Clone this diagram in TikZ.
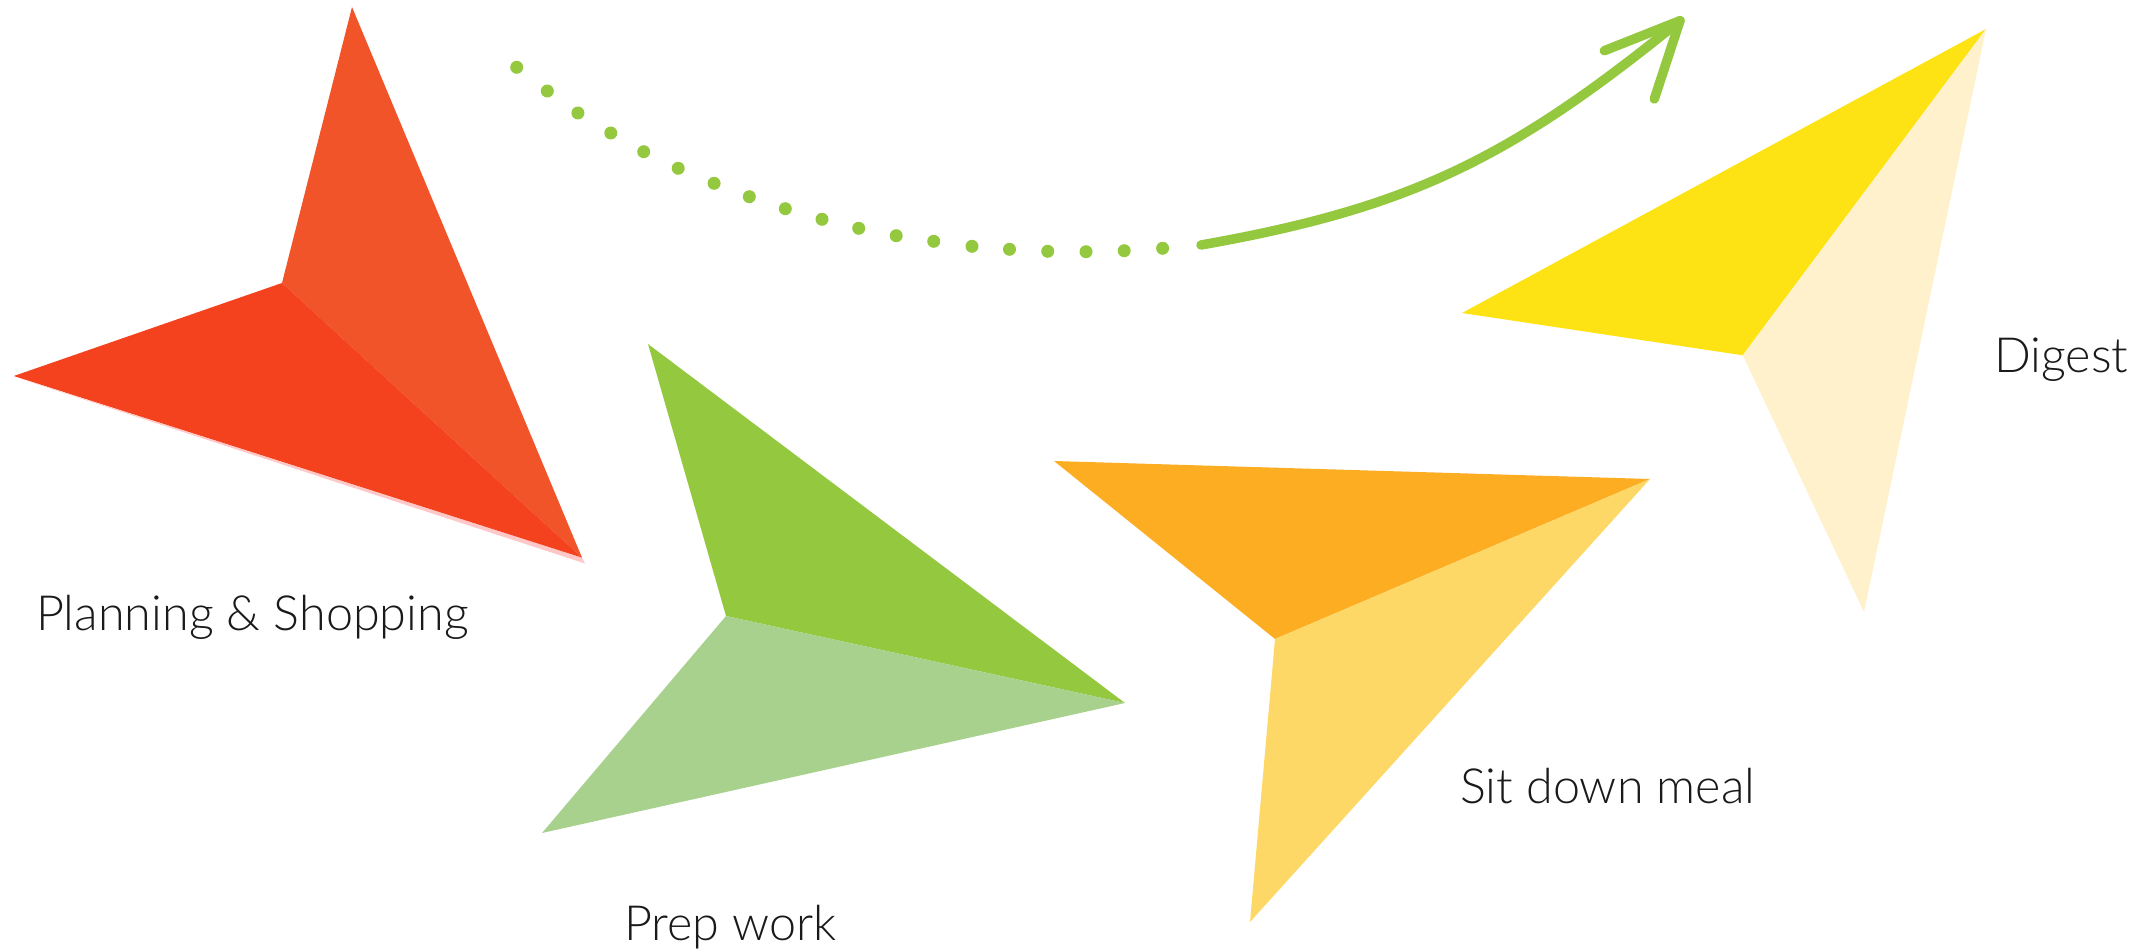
\documentclass[tikz,border=0pt]{standalone}
\usepackage{fontspec}
\newfontfamily\latolight{Lato Light}
\definecolor{redA}{HTML}{F2542A}
\definecolor{redB}{HTML}{F4411E}
\definecolor{redS}{HTML}{FFC8C8}
\definecolor{grnA}{HTML}{93C83F}
\definecolor{grnB}{HTML}{A8D18D}
\definecolor{orgA}{HTML}{FDAD22}
\definecolor{orgB}{HTML}{FDD867}
\definecolor{yelA}{HTML}{FEE314}
\definecolor{yelB}{HTML}{FEF1CB}
\definecolor{txt}{HTML}{1A1A1A}
\tikzset{
  lbl/.style={anchor=base west, inner sep=0pt, font=\latolight\fontsize{48.5}{52}\selectfont, text=txt},
  gdot/.style={fill=grnA},
  gline/.style={draw=grnA, line width=9.5pt, line cap=round, line join=round},
}
\begin{document}
\begin{tikzpicture}[x=1pt,y=-1pt]
\useasboundingbox (0,0) rectangle (2151,952);
% red
\coordinate (rT) at (352,7);
\coordinate (rI) at (282,283);
\coordinate (rL) at (13.8,376);
\coordinate (rR) at (582,557.6);
\fill[redS] (13.5,376.5) -- (585,563.5) -- (rR) -- cycle;
\fill[redA] (rT) -- (rI) -- (rR) -- cycle;
\fill[redB] (rL) -- (rI) -- (rR) -- cycle;
% green
\coordinate (gT) at (648,344);
\coordinate (gI) at (726,616);
\coordinate (gR) at (1125,703);
\coordinate (gB) at (542,833);
\fill[grnA] (gT) -- (gI) -- (gR) -- cycle;
\fill[grnB] (gB) -- (gI) -- (gR) -- cycle;
% orange
\coordinate (oL) at (1054,461);
\coordinate (oR) at (1650,479);
\coordinate (oI) at (1275,639);
\coordinate (oB) at (1250,922);
\fill[orgA] (oL) -- (oI) -- (oR) -- cycle;
\fill[orgB] (oB) -- (oI) -- (oR) -- cycle;
% yellow
\coordinate (yL) at (1462,313);
\coordinate (yT) at (1986,29);
\coordinate (yI) at (1742.7,355.3);
\coordinate (yB) at (1864,612);
\fill[yelA] (yL) -- (yI) -- (yT) -- cycle;
\fill[yelB] (yB) -- (yI) -- (yT) -- cycle;
% labels
\node[lbl] (plan) at (36,630.7) {Planning \& Shopping};
\node[lbl] (prep) at (624,940.7) {Prep work};
\node[lbl] (sit) at (1460,803.3) {Sit down meal};
\node[lbl] (dig) at (1994,372.7) {Digest};
% dotted part
\foreach \p in {(516.7,67.3),(547.3,91),(577.9,113),(610.8,133),(643.7,151.7),(678.2,168.3),(714.1,183.3),(749.3,196.7),(785.3,208.7),(822,219.3),(858.7,228.3),(896.2,235.7),(933.7,241.3),(972,246.3),(1009.5,249.3),(1047.7,251.3),(1086,251.7),(1124.2,250.7),(1162.6,248.3)}
  \fill[gdot] \p circle[radius=6.5];
% solid curve with open arrow head
\coordinate (cS) at (1201,245);
\coordinate (cE) at (1680,20.7);
\coordinate (bA) at (1604.3,50.7);
\coordinate (bB) at (1654.3,99);
\draw[gline] (cS) .. controls (1411,207.8) and (1510,158.7) .. (cE);
\draw[gline] (bA) -- (cE) -- (bB);
\end{tikzpicture}
\end{document}
